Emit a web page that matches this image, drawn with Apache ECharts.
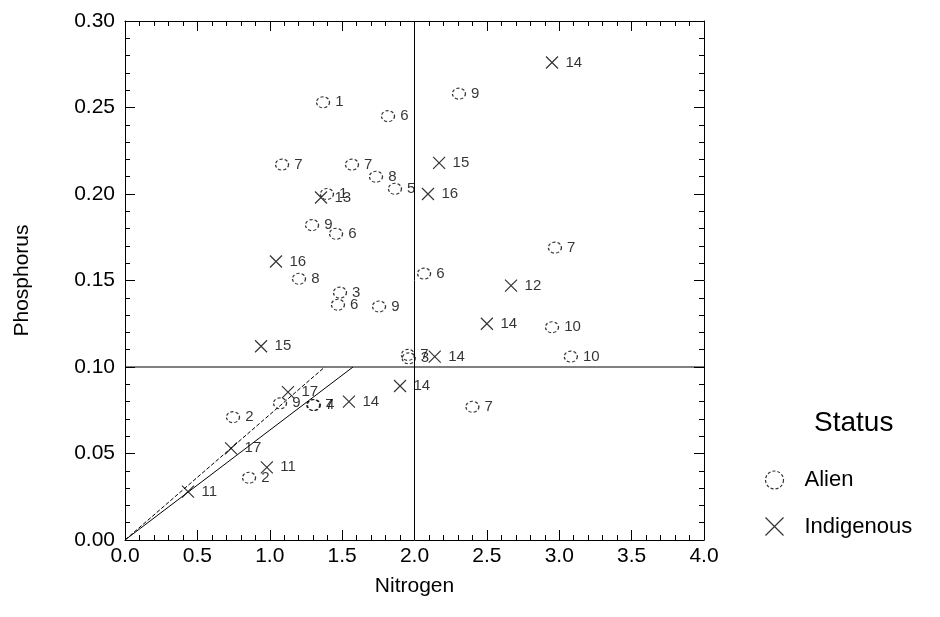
<!DOCTYPE html>
<html>
<head>
<meta charset="utf-8">
<script src="https://cdn.jsdelivr.net/npm/echarts@6/dist/echarts.min.js"></script>
<style>html,body{margin:0;background:#fff}#chart{width:940px;height:617px}</style>
</head>
<body>
<div id="chart"></div>
<script>
// [nitrogen, phosphorus, label]
let alien = [
  [1.368, 0.253, '1'], [1.817, 0.245, '6'], [2.307, 0.258, '9'], [1.085, 0.217, '7'],
  [1.568, 0.217, '7'], [1.734, 0.210, '8'], [1.865, 0.203, '5'], [1.395, 0.200, '1'],
  [1.292, 0.182, '9'], [1.458, 0.177, '6'], [1.202, 0.151, '8'], [1.485, 0.143, '3'],
  [1.471, 0.136, '6'], [1.755, 0.135, '9'], [2.066, 0.154, '6'], [2.970, 0.169, '7'],
  [2.950, 0.123, '10'], [3.080, 0.106, '10'], [1.955, 0.107, '7'], [1.960, 0.105, '3'],
  [2.400, 0.077, '7'], [0.746, 0.071, '2'], [1.071, 0.079, '9'], [1.300, 0.078, '7'],
  [1.305, 0.078, '4'], [0.857, 0.036, '2']
]
let indigenous = [
  [2.950, 0.276, '14'], [2.170, 0.218, '15'], [2.093, 0.200, '16'], [1.354, 0.198, '13'],
  [1.043, 0.161, '16'], [2.667, 0.147, '12'], [2.500, 0.125, '14'], [0.940, 0.112, '15'],
  [2.140, 0.106, '14'], [1.900, 0.089, '14'], [1.547, 0.080, '14'], [1.126, 0.0855, '17'],
  [0.733, 0.053, '17'], [0.980, 0.042, '11'], [0.435, 0.028, '11']
]
let vLine = [[2, 0], [2, 0.3]]
let hLine = [[0, 0.1], [4, 0.1]]
let solidFit = [[0, 0], [1.575, 0.1]]
let dashFit = [[0, 0], [1.38, 0.1]]

let font = 'Arial, Liberation Sans, sans-serif'
let lbl = {show: true, position: 'right', distance: 5, fontSize: 15, color: '#000', fontFamily: font,
  formatter: p => p.value[2]}
let lineS = (data, type) => ({type: 'line', data: data, symbol: 'none', silent: true,
  lineStyle: {color: '#000', width: 1, type: type}, z: 1})
let axisCommon = {
  axisLine: {onZero: false, lineStyle: {color: '#000', width: 1}},
  axisTick: {inside: true, length: 10, lineStyle: {color: '#000'}},
  minorTick: {show: true, splitNumber: 5, length: 5, lineStyle: {color: '#000'}},
  splitLine: {show: false}
}
let circleStyle = {color: 'rgba(0,0,0,0)', borderColor: '#000', borderWidth: 1.2, borderType: [3, 2]}
let crossStyle = {color: 'none', borderColor: '#000', borderWidth: 1.2}
let option = {
  animation: false,
  grid: {left: 125, right: 236, top: 21, bottom: 77},
  xAxis: [
    Object.assign({type: 'value', min: 0, max: 4, interval: 0.5, name: 'Nitrogen',
      nameLocation: 'middle', nameGap: 36, nameTextStyle: {fontSize: 21, fontFamily: font, color: '#000'},
      axisLabel: {fontSize: 21, fontFamily: font, color: '#000', margin: 6, formatter: v => v.toFixed(1)}}, axisCommon),
    Object.assign({type: 'value', min: 0, max: 4, interval: 0.5, position: 'top',
      axisLabel: {show: false}}, axisCommon)
  ],
  yAxis: [
    Object.assign({type: 'value', min: 0, max: 0.3, interval: 0.05, name: 'Phosphorus',
      nameLocation: 'middle', nameGap: 92, nameTextStyle: {fontSize: 21, fontFamily: font, color: '#000'},
      axisLabel: {fontSize: 21, fontFamily: font, color: '#000', margin: 10, formatter: v => v.toFixed(2)}}, axisCommon),
    Object.assign({type: 'value', min: 0, max: 0.3, interval: 0.05, position: 'right',
      axisLabel: {show: false}}, axisCommon)
  ],
  legend: {
    orient: 'vertical', left: 758, top: 464, itemGap: 24, itemWidth: 18, itemHeight: 18,
    data: [{name: 'Alien', icon: 'circle', itemStyle: circleStyle},
      {name: 'Indigenous', icon: 'path://M0,0L10,10M10,0L0,10', itemStyle: crossStyle}],
    textStyle: {fontSize: 22, fontFamily: font, color: '#000', padding: [0, 0, 0, 16]}
  },
  graphic: [{type: 'text', left: 814, top: 409,
    style: {text: 'Status', fontSize: 28, fontFamily: font, fill: '#000'}}],
  series: [
    lineS(vLine, 'solid'), lineS(hLine, 'solid'), lineS(solidFit, 'solid'), lineS(dashFit, 'dashed'),
    {name: 'Alien', type: 'scatter', data: alien, symbol: 'circle', symbolSize: [13, 11],
      itemStyle: circleStyle, label: lbl, z: 3},
    {name: 'Indigenous', type: 'scatter', data: indigenous,
      symbol: 'path://M0,0L10,10M10,0L0,10', symbolSize: 12,
      itemStyle: crossStyle, label: lbl, z: 3}
  ]
}
let chart = echarts.init(document.getElementById('chart'))
chart.setOption(option)
</script>
</body>
</html>
